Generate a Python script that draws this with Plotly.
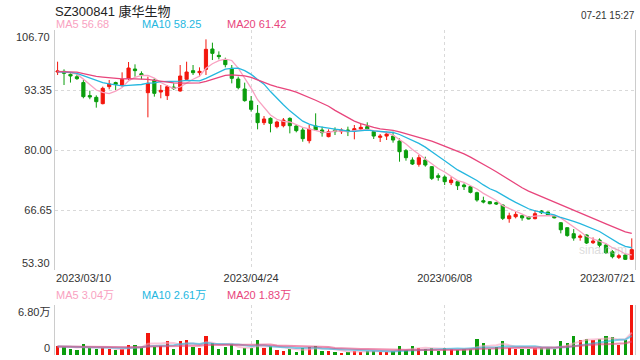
import plotly.graph_objects as go

# ---------------- data ----------------
date_ticks = ["2023/03/10", "2023/04/24", "2023/06/08", "2023/07/21"]
date_tick_index = [0, 30, 60, 89]

opens = [97.35, 97.50, 96.83, 96.30, 95.00, 92.10, 91.72, 90.31, 94.09, 95.00,
         94.46, 95.94, 98.02, 96.98, 92.75, 95.57, 92.90, 92.09, 94.00, 93.13,
         95.72, 97.65, 97.20, 97.95, 102.47, 101.06, 100.02, 98.17, 95.79, 93.57,
         90.90, 88.16, 86.08, 87.04, 85.19, 85.41, 87.04, 85.34, 84.45, 82.07,
         85.34, 84.45, 82.97, 84.45, 84.08, 84.45, 84.15, 84.67, 85.19, 84.08,
         82.82, 83.10, 83.10, 82.00, 79.85, 77.77, 76.81, 77.77, 76.29, 74.28,
         74.00, 72.73, 72.95, 72.21, 71.84, 70.50, 68.72, 68.50, 68.28, 67.76,
         64.72, 65.16, 65.38, 65.16, 64.72, 66.42, 66.20, 65.31, 63.82, 62.71,
         61.38, 60.56, 61.08, 59.37, 59.97, 58.86, 57.37, 56.11, 56.63, 55.67]
highs = [99.65, 97.95, 97.20, 96.90, 95.60, 93.20, 92.16, 94.09, 95.57, 95.20,
         97.28, 99.58, 99.06, 97.50, 96.32, 95.94, 94.46, 94.46, 94.83, 98.91,
         99.65, 98.91, 98.39, 104.62, 103.88, 101.95, 100.54, 98.91, 96.32, 94.98,
         92.01, 90.01, 87.56, 87.27, 86.53, 87.12, 87.27, 85.71, 85.04, 85.56,
         88.16, 85.19, 84.60, 85.04, 84.82, 85.19, 85.56, 85.93, 86.16, 84.45,
         83.56, 84.08, 84.08, 82.59, 80.22, 78.37, 78.88, 78.51, 76.40, 74.80,
         74.36, 74.06, 73.32, 72.58, 71.99, 70.72, 69.61, 68.65, 68.50, 67.90,
         66.05, 66.27, 65.53, 65.31, 66.65, 66.65, 66.27, 65.53, 63.97, 62.78,
         62.41, 61.23, 61.23, 60.56, 60.34, 59.23, 57.74, 56.85, 56.85, 60.34]
lows = [96.69, 94.46, 95.00, 95.60, 91.50, 91.30, 89.42, 90.16, 93.50, 93.35,
        94.09, 95.57, 96.30, 95.72, 87.27, 91.87, 91.50, 91.13, 93.35, 92.98,
        95.57, 96.69, 96.30, 96.69, 100.02, 100.17, 98.39, 94.83, 93.50, 90.75,
        88.53, 84.60, 85.56, 83.93, 84.82, 85.04, 83.70, 83.93, 81.85, 81.48,
        84.30, 82.97, 82.82, 83.33, 83.56, 83.10, 82.37, 84.45, 84.45, 82.45,
        81.78, 82.22, 81.63, 77.40, 77.62, 76.66, 76.29, 76.29, 73.32, 73.17,
        72.21, 72.21, 71.10, 71.10, 70.35, 68.50, 68.13, 67.90, 67.76, 64.42,
        63.82, 64.79, 64.27, 64.57, 64.57, 65.75, 65.31, 64.79, 61.45, 60.71,
        59.82, 59.82, 59.08, 59.08, 58.34, 56.85, 55.89, 55.74, 55.52, 55.52]
closes = [97.58, 97.06, 96.46, 95.87, 91.87, 91.80, 90.75, 93.72, 94.68, 94.60,
          95.72, 98.24, 97.65, 96.69, 94.83, 92.61, 93.27, 94.09, 93.65, 96.46,
          97.35, 97.20, 97.50, 102.40, 101.50, 100.77, 98.99, 95.94, 93.87, 90.98,
          89.05, 86.08, 86.90, 85.93, 86.23, 86.67, 85.41, 84.30, 82.52, 84.67,
          84.45, 83.85, 84.08, 84.08, 84.45, 84.08, 84.75, 85.04, 84.60, 83.10,
          83.10, 83.56, 82.22, 79.62, 78.29, 76.88, 78.29, 76.66, 73.69, 73.91,
          72.95, 73.32, 72.06, 71.84, 70.58, 68.87, 68.42, 68.05, 67.98, 64.79,
          65.36, 65.68, 64.90, 64.64, 65.83, 66.05, 65.45, 64.90, 62.25, 60.95,
          60.40, 60.85, 59.30, 59.75, 58.80, 57.15, 56.26, 56.48, 55.67, 57.83]
# volume in 万 (10k shares)
volumes = [1.22, 1.13, 0.82, 0.68, 1.54, 1.00, 0.82, 1.00, 0.82, 0.68,
           0.82, 1.36, 1.36, 1.00, 3.04, 1.13, 1.22, 1.90, 0.82, 1.90,
           2.04, 1.09, 0.95, 2.63, 1.59, 0.82, 1.09, 1.45, 0.68, 0.90,
           1.00, 2.04, 1.00, 1.22, 0.68, 0.59, 0.86, 0.45, 0.95, 1.13,
           1.22, 0.59, 0.59, 0.43, 0.32, 0.45, 0.60, 0.45, 0.54, 0.50,
           0.45, 0.45, 0.59, 1.22, 0.68, 1.22, 1.00, 0.77, 1.00, 0.59,
           0.90, 0.77, 0.68, 0.77, 0.86, 2.18, 1.63, 0.86, 1.13, 1.90,
           1.00, 0.75, 0.75, 0.75, 0.92, 1.00, 0.92, 0.88, 1.85, 1.70,
           2.55, 2.04, 2.18, 2.04, 2.13, 2.54, 2.45, 1.30, 2.09, 6.80]
# the 19 sessions before 2023/03/10 (needed for the moving averages)
prior_closes = [97.2, 98.1, 96.8, 97.9, 98.5, 97.0, 96.5, 97.6, 98.2, 97.3,
                96.9, 97.8, 98.0, 97.1, 96.6, 97.5, 97.9, 97.2, 97.4]
prior_volumes = [1.3, 1.1, 0.9, 1.4, 1.2, 1.0, 1.5, 1.1, 0.9, 1.2,
                 1.3, 1.0, 1.1, 1.4, 1.2, 0.9, 1.1, 1.3, 1.2]

price_ticks = [106.70, 93.35, 80.00, 66.65, 53.30]
vol_max = 6.80

# ---------------- helpers ----------------
def sma(prior, values, n):
    full = list(prior) + list(values)
    k = len(prior)
    return [sum(full[i - n + 1:i + 1]) / n for i in range(k, len(full))]

idx = list(range(len(closes)))
ma5, ma10, ma20 = (sma(prior_closes, closes, n) for n in (5, 10, 20))
vma5, vma10, vma20 = (sma(prior_volumes, volumes, n) for n in (5, 10, 20))

UP = "#f3160d"
DOWN = "#0a9d0c"
C5, C10, C20 = "#f9a2c1", "#25b7df", "#e8457c"
FONT = "Liberation Sans, Arial, Noto Sans CJK SC, sans-serif"
GRID = "#d9d9d9"
W, H = 640, 360

def px(x):
    return x / W

def py(y):
    return 1 - y / H

fig = go.Figure()
fig.add_trace(go.Candlestick(
    x=idx, open=opens, high=highs, low=lows, close=closes,
    increasing=dict(line=dict(color=UP, width=1), fillcolor=UP),
    decreasing=dict(line=dict(color=DOWN, width=1), fillcolor=DOWN),
    whiskerwidth=0, xaxis="x", yaxis="y", hoverinfo="skip", showlegend=False))
for ys, c in ((ma5, C5), (ma10, C10), (ma20, C20)):
    fig.add_trace(go.Scatter(x=idx, y=ys, mode="lines", line=dict(color=c, width=1.3),
                             xaxis="x", yaxis="y", hoverinfo="skip", showlegend=False))

vcolors = [UP if c >= o else DOWN for o, c in zip(opens, closes)]
fig.add_trace(go.Bar(x=idx, y=volumes, marker=dict(color=vcolors, line=dict(width=0)),
                     width=0.5, xaxis="x2", yaxis="y2", hoverinfo="skip", showlegend=False))
for ys, c in ((vma5, C5), (vma10, C10), (vma20, C20)):
    fig.add_trace(go.Scatter(x=idx, y=ys, mode="lines", line=dict(color=c, width=2),
                             opacity=0.6, xaxis="x2", yaxis="y2", hoverinfo="skip",
                             showlegend=False))

xdom = [px(55), px(635)]
xrange_ = [-0.4, 89.5]
common_x = dict(domain=xdom, range=xrange_, tickvals=date_tick_index[1:3],
                showgrid=True, gridcolor=GRID, griddash="dot", gridwidth=1,
                zeroline=False, showline=False, ticks="", fixedrange=True)

fig.update_layout(
    width=W, height=H, autosize=False,
    margin=dict(l=0, r=0, t=0, b=0),
    paper_bgcolor="white", plot_bgcolor="white",
    hovermode=False, bargap=0,
    font=dict(family=FONT, size=11, color="#333333"),
    xaxis=dict(**common_x, anchor="y", ticktext=date_ticks[1:3],
               tickfont=dict(size=11, color="#333333"),
               rangeslider=dict(visible=False)),
    yaxis=dict(domain=[py(270), py(30)], range=[price_ticks[-1], price_ticks[0]],
               tickvals=price_ticks, ticktext=["", "93.35", "80.00", "66.65", ""],
               showgrid=True, gridcolor=GRID, griddash="dot", zeroline=False,
               showline=True, mirror=True, linecolor="#cccccc", ticks="",
               tickfont=dict(size=11, color="#333333"), fixedrange=True),
    xaxis2=dict(**common_x, anchor="y2", showticklabels=False),
    yaxis2=dict(domain=[py(355), py(305)], range=[0, vol_max],
                tickvals=[0, vol_max], ticktext=["", ""],
                showgrid=True, gridcolor=GRID, griddash="dot", zeroline=False,
                showline=True, mirror=True, linecolor="#cccccc", ticks="",
                fixedrange=True),
)

ann = []
def text(x, y, s, color="#333333", size=11, xanchor="left", yanchor="middle",
         xref="paper", yref="paper"):
    ann.append(dict(x=x, y=y, text=s, showarrow=False, xref=xref, yref=yref,
                    xanchor=xanchor, yanchor=yanchor, borderpad=0,
                    font=dict(family=FONT, size=size, color=color)))

text(px(54), py(11), "SZ300841 康华生物", color="#222222", size=13)
text(px(636), py(16), "07-21 15:27", color="#333333", size=10, xanchor="right")
text(px(55), py(24), f"MA5 {ma5[-1]:.2f}", color=C5)
text(px(140.5), py(24), f"MA10 {ma10[-1]:.2f}", color=C10)
text(px(225.5), py(24), f"MA20 {ma20[-1]:.2f}", color=C20)
text(px(51), price_ticks[0], f"{price_ticks[0]:.2f}", xanchor="right", yanchor="top", yref="y")
text(px(51), price_ticks[-1], f"{price_ticks[-1]:.2f}", xanchor="right", yanchor="bottom", yref="y")
text(px(55), py(278), date_ticks[0])
text(px(636), py(278), date_ticks[-1], xanchor="right")
text(px(55), py(295), f"MA5 {vma5[-1]:.2f}万", color=C5)
text(px(140.5), py(295), f"MA10 {vma10[-1]:.2f}万", color=C10)
text(px(225.5), py(295), f"MA20 {vma20[-1]:.2f}万", color=C20)
text(px(51), vol_max, f"{vol_max:.2f}万", xanchor="right", yanchor="top", yref="y2")
text(px(51), 0, "0", xanchor="right", yanchor="bottom", yref="y2")
text(px(603), py(250), "sina.com", color="rgba(190,190,190,0.55)", size=12, xanchor="center")
fig.update_layout(annotations=ann)

fig.write_html("out.html", config={"displayModeBar": False},
               post_script="document.body.style.margin='0';document.body.style.overflow='hidden';")
